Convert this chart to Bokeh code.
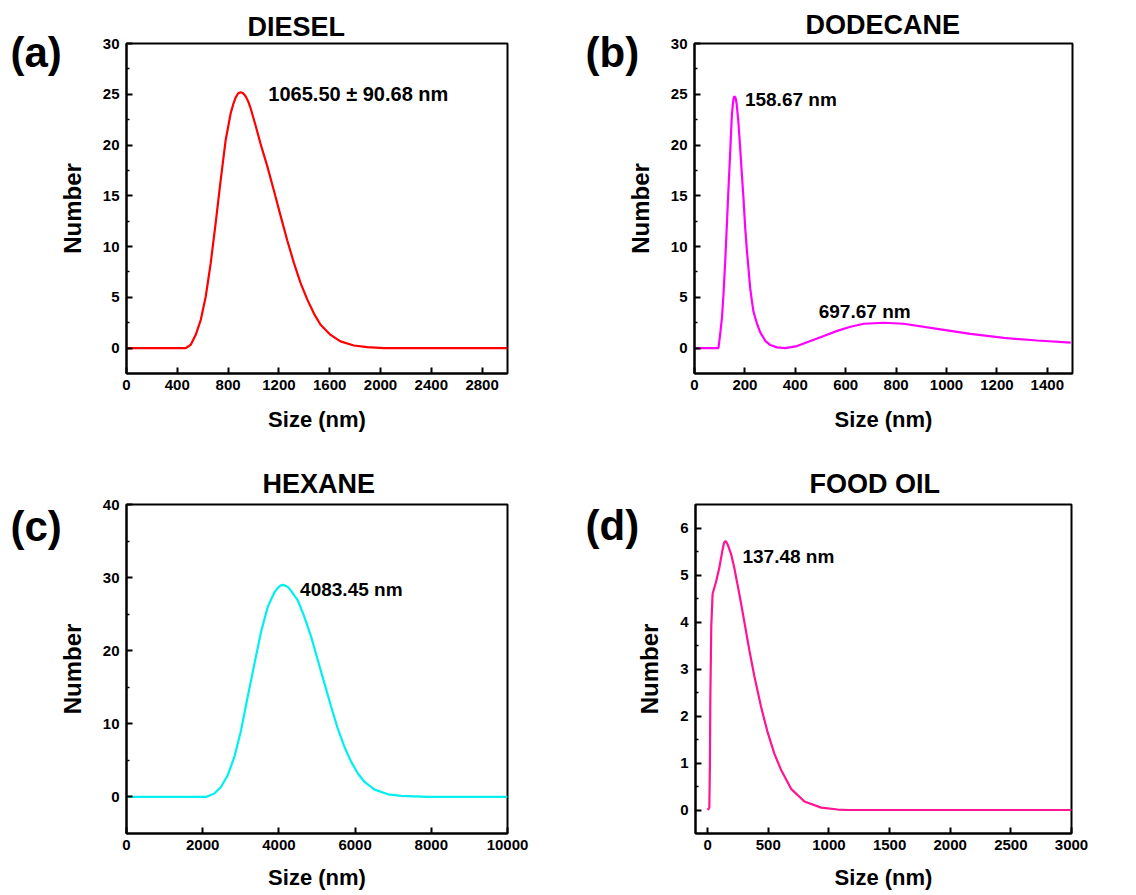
from bokeh.plotting import figure
from bokeh.models import Range1d, FixedTicker, Label, Title
from bokeh.layouts import column, row
from bokeh.embed import file_html
from bokeh.resources import INLINE

# ---------------- data ----------------
diesel_size = [0, 467, 506, 545, 585, 624, 663, 702, 742, 781, 820, 840, 860, 880,
               899, 918, 938, 958, 978, 1017, 1056, 1109, 1161, 1214, 1266, 1318,
               1371, 1423, 1476, 1528, 1607, 1685, 1790, 1895, 2026, 3000]
diesel_number = [0, 0, 0.33, 1.31, 2.79, 5.08, 8.36, 12.3, 16.6, 20.5, 23.1, 24.0,
                 24.7, 25.1, 25.2, 25.1, 24.8, 24.3, 23.6, 21.9, 20.1, 17.9, 15.5,
                 13.0, 10.6, 8.4, 6.4, 4.8, 3.4, 2.3, 1.3, 0.66, 0.26, 0.1, 0, 0]

dodecane_size = [0, 89, 95, 102, 109, 115, 122, 128, 135, 142, 148, 152, 155, 158,
                 162, 165, 168, 175, 181, 188, 195, 201, 208, 215, 221, 228, 234,
                 248, 261, 281, 301, 327, 360, 407, 460, 513, 566, 619, 672, 751,
                 830, 963, 1095, 1228, 1360, 1493]
dodecane_number = [0, 0, 0, 1.4, 3.0, 5.3, 8.6, 11.9, 15.8, 19.5, 22.8, 24.0, 24.6,
                   24.8, 24.7, 24.4, 23.9, 22.0, 19.8, 17.1, 14.5, 11.9, 9.6, 7.6,
                   5.9, 4.6, 3.6, 2.4, 1.55, 0.72, 0.3, 0.07, 0, 0.2, 0.7, 1.2, 1.7,
                   2.1, 2.4, 2.5, 2.4, 1.9, 1.4, 1.0, 0.75, 0.55]

hexane_size = [0, 2086, 2305, 2480, 2656, 2831, 3006, 3181, 3357, 3532, 3707, 3883,
               3974, 4040, 4102, 4170, 4237, 4321, 4496, 4671, 4847, 5022, 5197,
               5373, 5548, 5723, 5898, 6074, 6249, 6512, 6862, 7213, 7914, 10000]
hexane_number = [0, 0, 0.46, 1.37, 2.96, 5.47, 9.1, 13.7, 18.2, 22.6, 26.0, 28.0,
                 28.6, 28.9, 29.0, 28.9, 28.7, 28.2, 26.9, 24.6, 21.9, 18.7, 15.5,
                 12.3, 9.3, 6.8, 4.8, 3.2, 2.05, 1.0, 0.36, 0.14, 0, 0]

foodoil_size = [0, 14, 19, 22, 30, 41, 69, 96, 124, 135, 143, 152, 165, 193, 220,
                261, 303, 344, 385, 440, 495, 550, 606, 688, 798, 936, 1073, 1156,
                3000]
foodoil_number = [0, 0.05, 1.0, 2.3, 3.9, 4.6, 4.85, 5.15, 5.55, 5.68, 5.72, 5.71,
                  5.65, 5.45, 5.15, 4.6, 4.0, 3.4, 2.85, 2.2, 1.65, 1.2, 0.85, 0.45,
                  0.18, 0.05, 0.01, 0, 0]

titles = ["DIESEL", "DODECANE", "HEXANE", "FOOD OIL"]
panel_tags = ["(a)", "(b)", "(c)", "(d)"]
peak_labels = [["1065.50 \u00b1 90.68 nm"], ["158.67 nm", "697.67 nm"],
               ["4083.45 nm"], ["137.48 nm"]]

x_ticks_a = [0, 400, 800, 1200, 1600, 2000, 2400, 2800]
x_ticks_b = [0, 200, 400, 600, 800, 1000, 1200, 1400]
x_ticks_c = [0, 2000, 4000, 6000, 8000, 10000]
x_ticks_d = [0, 500, 1000, 1500, 2000, 2500, 3000]
y_ticks_ab = [0, 5, 10, 15, 20, 25, 30]
y_minor_ab = [2.5, 7.5, 12.5, 17.5, 22.5, 27.5]
y_ticks_c = [0, 10, 20, 30, 40]
y_minor_c = [5, 15, 25, 35]
y_ticks_d = [0, 1, 2, 3, 4, 5, 6]
y_minor_d = [0.5, 1.5, 2.5, 3.5, 4.5, 5.5]

FONT = "Liberation Sans"


def make_panel(xs, ys, color, title, tag, notes, xr, yr, xt, yt, ymt,
               w, h, bl, br, bt, bb, title_off, title_standoff, tag_off,
               tag_standoff, label_standoff_x):
    p = figure(width=w, height=h, title=None, output_backend="svg",
               toolbar_location=None, x_range=Range1d(*xr), y_range=Range1d(*yr),
               min_border_left=bl, min_border_right=br, min_border_top=bt,
               min_border_bottom=bb)
    p.background_fill_color = "white"
    p.border_fill_color = "white"
    p.outline_line_color = "black"
    p.outline_line_width = 2
    p.outline_line_alpha = 1.0
    p.grid.visible = False

    p.line(xs, ys, line_color=color, line_width=2.2)

    p.xaxis.ticker = FixedTicker(ticks=xt, minor_ticks=[])
    p.yaxis.ticker = FixedTicker(ticks=yt, minor_ticks=ymt)
    for ax in (p.xaxis[0], p.yaxis[0]):
        ax.axis_line_width = 2
        ax.axis_line_color = "black"
        ax.major_tick_in = 6
        ax.major_tick_out = 0
        ax.minor_tick_in = 3
        ax.minor_tick_out = 0
        ax.major_tick_line_width = 2
        ax.minor_tick_line_width = 1.5
        ax.major_label_text_font = FONT
        ax.major_label_text_font_style = "bold"
        ax.major_label_text_font_size = "15px"
        ax.major_label_text_color = "black"
        ax.axis_label_text_font = FONT
        ax.axis_label_text_font_style = "bold"
        ax.axis_label_text_color = "black"
    p.xaxis.axis_label_text_font_size = "22px"
    p.yaxis.axis_label_text_font_size = "24px"
    p.xaxis.axis_label = "Size (nm)"
    p.yaxis.axis_label = "Number"
    p.xaxis.major_label_standoff = 6
    p.yaxis.major_label_standoff = 7
    p.xaxis.axis_label_standoff = label_standoff_x
    p.yaxis.axis_label_standoff = 14

    # panel tag, first in the "above" stack, pushed down beside the axis
    p.add_layout(Title(text=tag, align="left", offset=tag_off, standoff=tag_standoff,
                       text_font=FONT, text_font_style="bold",
                       text_font_size="42px", text_color="black"), "above")
    # panel title
    p.add_layout(Title(text=title, align="left", offset=title_off,
                       standoff=title_standoff, text_font=FONT,
                       text_font_style="bold", text_font_size="27px",
                       text_color="black"), "above")

    for (tx, ty, txt, fs) in notes:
        p.add_layout(Label(x=tx, y=ty, text=txt, text_align="left",
                           text_baseline="alphabetic", text_font=FONT,
                           text_font_style="bold", text_font_size=fs,
                           text_color="black"))
    return p


pa = make_panel(diesel_size, diesel_number, "#FF0000", titles[0], panel_tags[0],
                [(1117, 25.0, peak_labels[0][0], "20px")],
                (0, 3000), (-2.5, 30), x_ticks_a, y_ticks_ab, y_minor_ab,
                568, 453, 126, 61, 43, 80, 121, 4, -116, -64, 14)
pb = make_panel(dodecane_size, dodecane_number, "#FF00FF", titles[1], panel_tags[1],
                [(200, 24.5, peak_labels[1][0], "19px"),
                 (493, 3.56, peak_labels[1][1], "19px")],
                (0, 1500), (-2.5, 30), x_ticks_b, y_ticks_ab, y_minor_ab,
                552, 453, 126, 48, 43, 80, 111, 8, -109, -64, 14)
pc = make_panel(hexane_size, hexane_number, "#00F0F0", titles[2], panel_tags[2],
                [(4556, 28.4, peak_labels[2][0], "19px")],
                (0, 10000), (-5, 40), x_ticks_c, y_ticks_c, y_minor_c,
                568, 440, 126, 61, 50, 60, 136, 11, -116, -90, 12)
pd = make_panel(foodoil_size, foodoil_number, "#FF1493", titles[3], panel_tags[3],
                [(287, 5.40, peak_labels[3][0], "19px")],
                (-100, 3000), (-0.5, 6.5), x_ticks_d, y_ticks_d, y_minor_d,
                552, 440, 127, 49, 51, 60, 114, 11, -110, -88, 12)

layout = column(row(pa, pb), row(pc, pd))
open("out.html", "w").write(file_html(layout, INLINE))
